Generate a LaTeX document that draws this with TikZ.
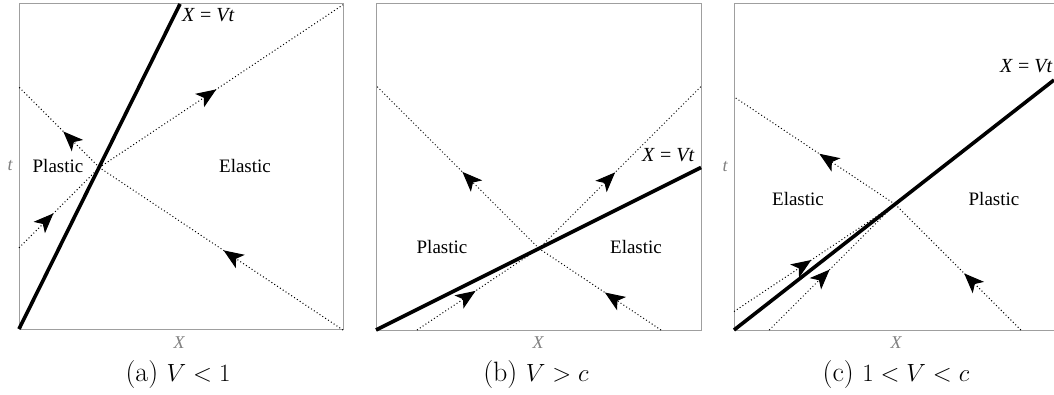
\documentclass[tikz,border=0pt]{standalone}
\usepackage{fontspec}
\newfontfamily\tms{Liberation Serif}
\usetikzlibrary{arrows.meta,decorations.markings}
\begin{document}
\begin{tikzpicture}[x=1pt,y=-1pt,
  frame/.style={draw=gray!75, line width=1pt},
  front/.style={line width=3.6pt, black, line cap=butt},
  charline/.style={dash pattern=on 1pt off 2.4pt, line width=1pt, black},
  arrowat/.style={postaction={decorate, decoration={markings,
      mark=at position #1 with {\arrow{Stealth[length=20pt,width=16pt,inset=5pt]}}}}},
  lbl/.style={font=\fontsize{19}{21}\selectfont\tms, inner sep=0pt},
  eqlbl/.style={font=\fontsize{20}{22}\selectfont\tms, inner sep=0pt},
  axl/.style={font=\fontsize{18}{20}\selectfont\tms\itshape, text=gray, inner sep=0pt},
  captext/.style={font=\fontsize{28}{31}\selectfont, inner sep=0pt}]
\useasboundingbox (0,0) rectangle (1054,395);

% ---------------- panel (a) ----------------
\draw[frame] (19,4) rectangle (343,329);
\coordinate (Fa0) at (19,329);
\coordinate (Fa1) at (180,4);
\coordinate (Pa) at (99.3,167.5);
\coordinate (RaL) at (19,247.8);
\coordinate (RaR) at (343,4.8);
\coordinate (FaL) at (19,87.2);
\coordinate (FaR) at (343,330);
\draw[charline, arrowat=0.43] (RaL) -- (Pa);
\draw[charline, arrowat=0.48] (Pa) -- (RaR);
\draw[charline, arrowat=0.45] (Pa) -- (FaL);
\draw[charline, arrowat=0.49] (FaR) -- (Pa);
\draw[front] (Fa0) -- (Fa1);
\node[eqlbl, anchor=west] (eqa) at (182,15) {\textit{X} = \textit{Vt}};
\node[lbl] (pla) at (58,166) {Plastic};
\node[lbl] (ela) at (245,166) {Elastic};
\node[axl] (ta) at (10,166) {t};
\node[axl] (xa) at (179,343) {X};
\node[captext] (capa) at (178,375) {(a) $V<1$};

% ---------------- panel (b) ----------------
\draw[frame] (376,4) rectangle (701,330);
\coordinate (Fb0) at (376,330);
\coordinate (Fb1) at (701,167.5);
\coordinate (Pb) at (539,248.5);
\coordinate (FbL) at (376,85.5);
\coordinate (RbR) at (701,86.5);
\coordinate (FbB) at (661,330);
\coordinate (RbB) at (417,330);
\draw[charline, arrowat=0.47] (Pb) -- (FbL);
\draw[charline, arrowat=0.47] (Pb) -- (RbR);
\draw[charline, arrowat=0.46] (FbB) -- (Pb);
\draw[charline, arrowat=0.48] (RbB) -- (Pb);
\draw[front] (Fb0) -- (Fb1);
\node[eqlbl, anchor=west] (eqb) at (642,155) {\textit{X} = \textit{Vt}};
\node[lbl] (plb) at (442,247) {Plastic};
\node[lbl] (elb) at (636,247) {Elastic};
\node[axl] (xb) at (538,343) {X};
\node[captext] (capb) at (536,375) {(b) $V>c$};

% ---------------- panel (c) ----------------
\draw[frame] (1054,4) -- (734,4) -- (734,330) -- (1054,330);
\coordinate (Fc0) at (734,330);
\coordinate (Fc1) at (1054,80);
\coordinate (Pc) at (895,204.2);
\coordinate (FcL) at (734,96.9);
\coordinate (FcB) at (1020.8,330);
\coordinate (RcL) at (734,311.5);
\coordinate (RcB) at (769.2,330);
\draw[charline, arrowat=0.47] (Pc) -- (FcL);
\draw[charline, arrowat=0.45] (FcB) -- (Pc);
\draw[charline, arrowat=0.48] (RcL) -- (Pc);
\draw[charline, arrowat=0.48] (RcB) -- (Pc);
\draw[front] (Fc0) -- (Fc1);
\node[eqlbl, anchor=west] (eqc) at (1000,66) {\textit{X} = \textit{Vt}};
\node[lbl] (elc) at (798,199) {Elastic};
\node[lbl] (plc) at (994,199) {Plastic};
\node[axl] (tc) at (725,167) {t};
\node[axl] (xc) at (896,343) {X};
\node[captext] (capc) at (896,375) {(c) $1<V<c$};
\end{tikzpicture}
\end{document}
